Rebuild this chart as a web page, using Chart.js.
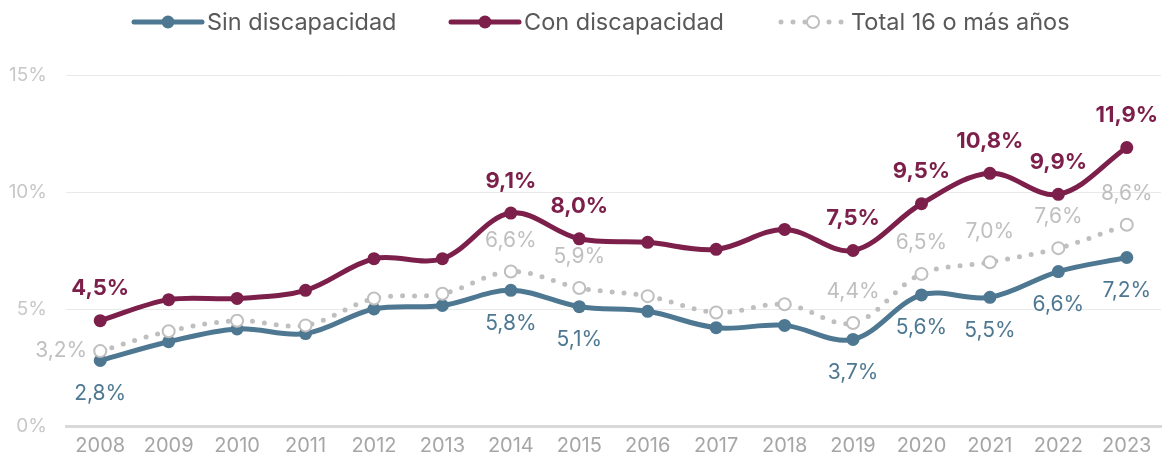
<!DOCTYPE html>
<html lang="es">
<head>
<meta charset="utf-8">
<title>Tasa por discapacidad 2008-2023</title>
<script src="https://cdn.jsdelivr.net/npm/chart.js@4/dist/chart.umd.min.js"></script>
<style>
  html, body { margin: 0; padding: 0; background: #ffffff; }
  #wrap { width: 1169px; height: 463px; position: relative; }
</style>
</head>
<body>
<div id="wrap"><canvas id="chart" width="1169" height="463"></canvas></div>
<script>
// Años del eje horizontal
const years = ['2008','2009','2010','2011','2012','2013','2014','2015','2016','2017','2018','2019','2020','2021','2022','2023'];

// Series (%)
const sinDiscapacidad = [2.8, 3.6, 4.15, 3.95, 5.0, 5.15, 5.8, 5.1, 4.9, 4.2, 4.3, 3.7, 5.6, 5.5, 6.6, 7.2];
const conDiscapacidad = [4.5, 5.4, 5.45, 5.8, 7.15, 7.15, 9.1, 8.0, 7.85, 7.55, 8.4, 7.5, 9.5, 10.8, 9.9, 11.9];
const total16 = [3.2, 4.05, 4.5, 4.3, 5.45, 5.65, 6.6, 5.9, 5.55, 4.85, 5.2, 4.4, 6.5, 7.0, 7.6, 8.6];

// Años que llevan etiqueta de valor
const labelledYears = ['2008','2014','2015','2019','2020','2021','2022','2023'];

// Marcas del eje vertical
const yTicks = [0, 5, 10, 15];

const BLUE = '#4e7892';
const MAROON = '#7c1f4a';
const GREY = '#bfbfbf';
const FONT = 'Inter, "Liberation Sans", sans-serif';

const fmt = v => v.toFixed(1).replace('.', ',') + '%';

// Etiquetas de valor junto a los puntos
const valueLabels = {
  id: 'valueLabels',
  afterDatasetsDraw(chart) {
    const ctx = chart.ctx;
    chart.data.datasets.forEach((ds, di) => {
      const meta = chart.getDatasetMeta(di);
      const cfg = ds.labelStyle;
      ds.data.forEach((v, i) => {
        if (!labelledYears.includes(years[i])) return;
        const pt = meta.data[i];
        ctx.save();
        ctx.font = cfg.font;
        ctx.fillStyle = cfg.color;
        ctx.textBaseline = 'middle';
        let x = pt.x, y = pt.y;
        let pos = cfg.pos;
        if (cfg.leftAt && cfg.leftAt.includes(years[i])) pos = 'left';
        if (pos === 'above') { ctx.textAlign = 'center'; y -= cfg.offset; }
        else if (pos === 'below') { ctx.textAlign = 'center'; y += cfg.offset; }
        else { ctx.textAlign = 'right'; x -= 13; }
        ctx.fillText(fmt(v), x, y);
        ctx.restore();
      });
    });
  }
};

// Leyenda superior: línea con marcador y texto
const topLegend = {
  id: 'topLegend',
  afterDraw(chart) {
    const ctx = chart.ctx;
    const items = [
      { x: 134, text: 'Sin discapacidad', ds: 1 },
      { x: 451, text: 'Con discapacidad', ds: 0 },
      { x: 778, text: 'Total 16 o más años', ds: 2 }
    ];
    const y = 22;
    items.forEach(it => {
      const ds = chart.data.datasets[it.ds];
      ctx.save();
      ctx.lineCap = 'round';
      if (ds.borderDash && ds.borderDash.length) {
        ctx.strokeStyle = GREY;
        ctx.lineWidth = 5;
        ctx.setLineDash([0, 12]);
        ctx.beginPath(); ctx.moveTo(it.x + 3, y); ctx.lineTo(it.x + 70, y); ctx.stroke();
        ctx.setLineDash([]);
        ctx.fillStyle = '#ffffff';
        ctx.beginPath(); ctx.arc(it.x + 35, y, 6, 0, Math.PI * 2); ctx.fill();
        ctx.lineWidth = 2; ctx.strokeStyle = GREY; ctx.stroke();
      } else {
        ctx.strokeStyle = ds.borderColor;
        ctx.lineWidth = 5;
        ctx.beginPath(); ctx.moveTo(it.x, y); ctx.lineTo(it.x + 68, y); ctx.stroke();
        ctx.fillStyle = ds.borderColor;
        ctx.beginPath(); ctx.arc(it.x + 34, y, 6.5, 0, Math.PI * 2); ctx.fill();
      }
      ctx.fillStyle = '#595959';
      ctx.font = '23.5px ' + FONT;
      ctx.textAlign = 'left';
      ctx.textBaseline = 'middle';
      ctx.fillText(it.text, it.x + 73, y + 1);
      ctx.restore();
    });
  }
};

new Chart(document.getElementById('chart'), {
  type: 'line',
  data: {
    labels: years,
    datasets: [
      {
        label: 'Con discapacidad',
        data: conDiscapacidad,
        borderColor: MAROON,
        backgroundColor: MAROON,
        borderWidth: 5,
        pointRadius: 6.5,
        pointBorderWidth: 0,
        tension: 0.35,
        order: 2,
        labelStyle: { font: 'bold 22px ' + FONT, color: MAROON, pos: 'above', offset: 32 }
      },
      {
        label: 'Sin discapacidad',
        data: sinDiscapacidad,
        borderColor: BLUE,
        backgroundColor: BLUE,
        borderWidth: 5,
        pointRadius: 6.5,
        pointBorderWidth: 0,
        tension: 0.35,
        order: 3,
        labelStyle: { font: '21px ' + FONT, color: BLUE, pos: 'below', offset: 33 }
      },
      {
        label: 'Total 16 o más años',
        data: total16,
        borderColor: GREY,
        backgroundColor: '#ffffff',
        borderWidth: 5,
        borderDash: [0, 12],
        borderCapStyle: 'round',
        pointRadius: 6,
        pointBorderWidth: 2,
        pointBorderColor: GREY,
        pointBackgroundColor: '#ffffff',
        tension: 0.35,
        order: 1,
        labelStyle: { font: '21px ' + FONT, color: GREY, pos: 'above', offset: 31, leftAt: ['2008'] }
      }
    ]
  },
  options: {
    responsive: false,
    animation: false,
    layout: { padding: { top: 75, right: 2, left: 0, bottom: 5 } },
    plugins: {
      legend: { display: false },
      tooltip: { enabled: false }
    },
    scales: {
      x: {
        offset: true,
        grid: { display: false },
        border: { color: '#d9d9d9', width: 3 },
        ticks: { color: '#a6a6a6', font: { size: 20, family: FONT }, padding: 0 }
      },
      y: {
        min: 0,
        max: 15,
        afterBuildTicks(axis) { axis.ticks = yTicks.map(v => ({ value: v })); },
        afterFit(axis) { axis.width = 66; },
        grid: { color: '#e9e9e9', lineWidth: 1, drawTicks: false },
        border: { display: false },
        ticks: {
          color: '#c8c8c8',
          font: { size: 19, family: FONT },
          padding: 19,
          callback: v => v + '%'
        }
      }
    }
  },
  plugins: [valueLabels, topLegend]
});
</script>
</body>
</html>
